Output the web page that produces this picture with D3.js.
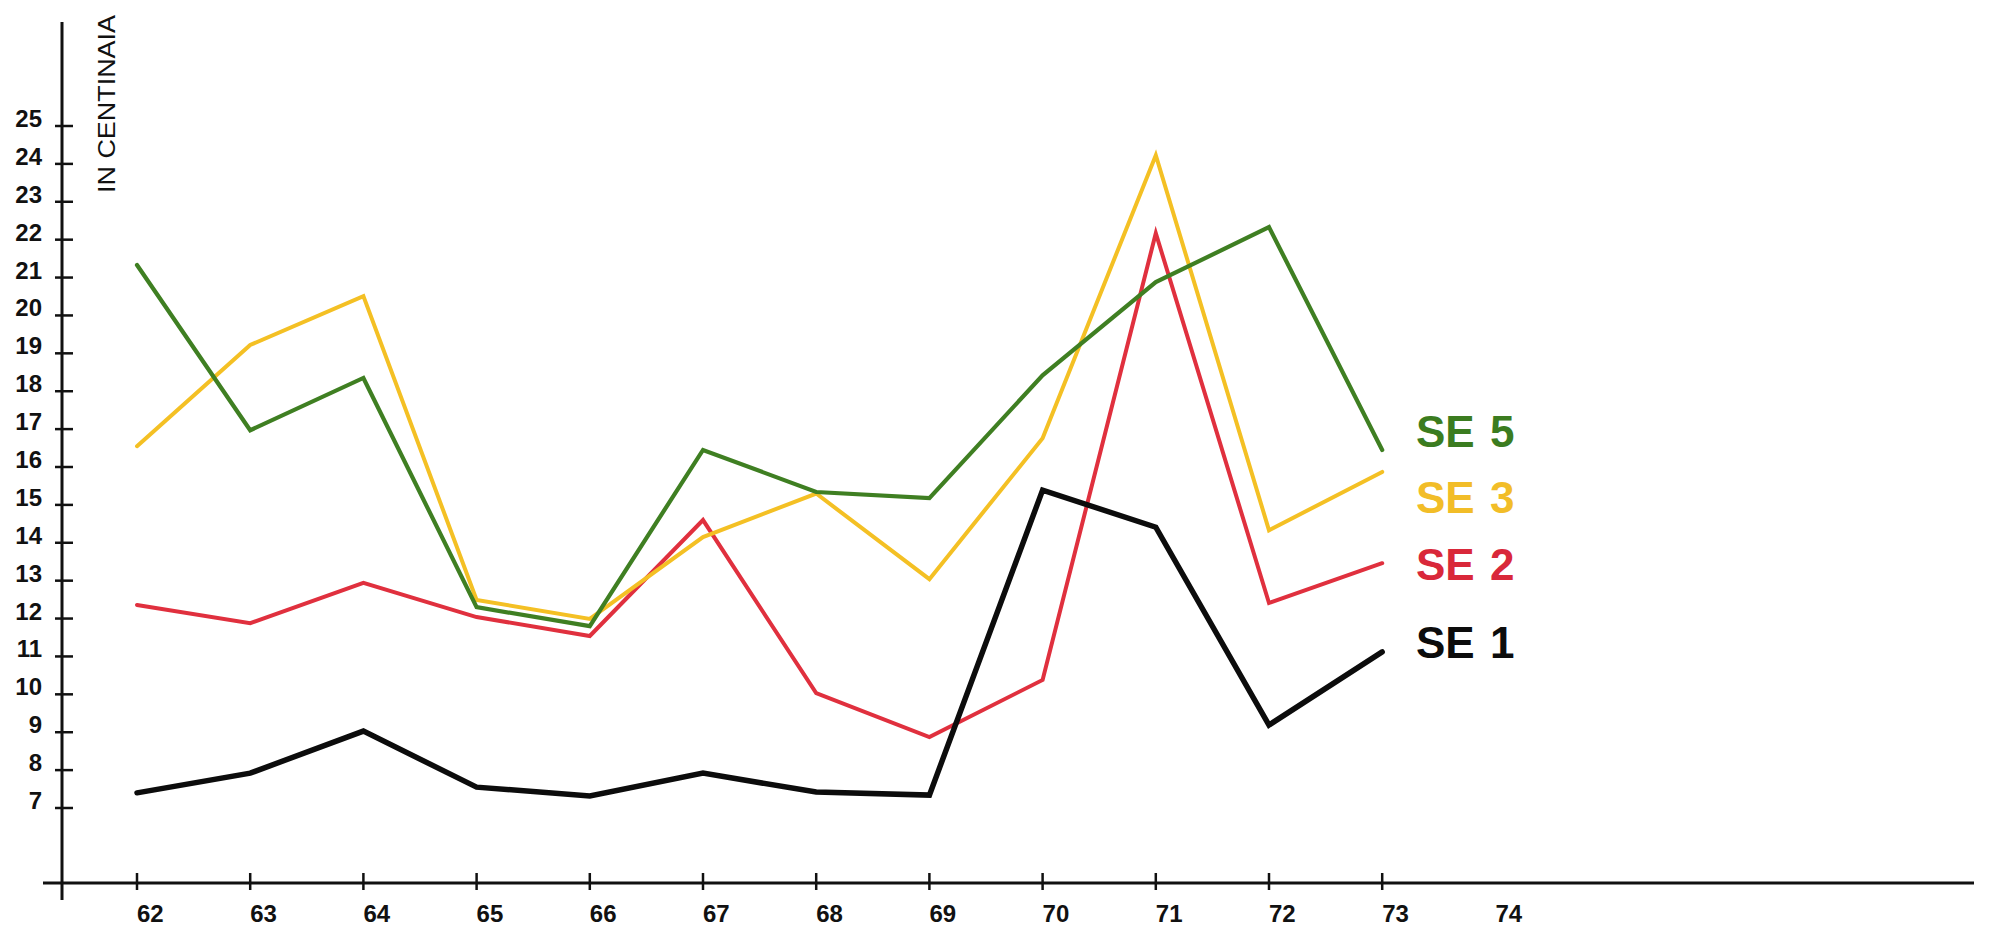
<!DOCTYPE html>
<html>
<head>
<meta charset="utf-8">
<script src="https://cdn.jsdelivr.net/npm/d3@7"></script>
<style>
  html, body { margin: 0; padding: 0; background: #fff; }
  svg { display: block; }
</style>
</head>
<body>
<svg id="chart" width="1997" height="928"></svg>
<script>
// ---- data ----
const years = [62, 63, 64, 65, 66, 67, 68, 69, 70, 71, 72, 73];
const xTickLabels = [62, 63, 64, 65, 66, 67, 68, 69, 70, 71, 72, 73, 74];
const yTickValues = [7, 8, 9, 10, 11, 12, 13, 14, 15, 16, 17, 18, 19, 20, 21, 22, 23, 24, 25];
const se5 = [21.33, 16.97, 18.35, 12.3, 11.8, 16.45, 15.34, 15.18, 18.42, 20.88, 22.33, 16.45];
const se3 = [16.55, 19.22, 20.51, 12.49, 11.99, 14.15, 15.3, 13.04, 16.76, 24.23, 14.33, 15.87];
const se2 = [12.36, 11.88, 12.94, 12.04, 11.54, 14.6, 10.03, 8.87, 10.38, 22.17, 12.41, 13.46];
const se1 = [7.4, 7.92, 9.03, 7.55, 7.32, 7.92, 7.42, 7.34, 15.39, 14.41, 9.19, 11.12];
const seriesNames = ["SE", "SE", "SE", "SE"];
const seriesNumbers = ["5", "3", "2", "1"];
const yAxisTitle = "IN CENTINAIA";

// ---- layout ----
const svg = d3.select("#chart");
const x = d3.scaleLinear().domain([62, 74]).range([137, 1495.4]);
const y = d3.scaleLinear().domain([7, 25]).range([808, 126]);
const axisX = 62, axisY = 883;
const font = "'Liberation Sans', Arial, Helvetica, sans-serif";

// axes lines
svg.append("line").attr("x1", axisX).attr("x2", axisX).attr("y1", 22).attr("y2", 900)
  .attr("stroke", "#111").attr("stroke-width", 3);
svg.append("line").attr("x1", 43).attr("x2", 1974).attr("y1", axisY).attr("y2", axisY)
  .attr("stroke", "#111").attr("stroke-width", 3);

// y ticks
const yg = svg.append("g");
yg.selectAll("line").data(yTickValues).join("line")
  .attr("x1", axisX - 7).attr("x2", axisX + 11)
  .attr("y1", d => y(d)).attr("y2", d => y(d))
  .attr("stroke", "#111").attr("stroke-width", 2.5);
yg.selectAll("text").data(yTickValues).join("text")
  .attr("x", 42).attr("y", d => y(d) + 1)
  .attr("text-anchor", "end")
  .attr("font-family", font).attr("font-weight", "bold").attr("font-size", 24)
  .attr("fill", "#111")
  .text(d => d);

// x ticks
const xg = svg.append("g");
xg.selectAll("line").data(years).join("line")
  .attr("x1", d => x(d)).attr("x2", d => x(d))
  .attr("y1", axisY - 10).attr("y2", axisY + 7)
  .attr("stroke", "#111").attr("stroke-width", 2.5);
xg.selectAll("text").data(xTickLabels).join("text")
  .attr("x", d => x(d)).attr("y", 922)
  .attr("text-anchor", "start")
  .attr("font-family", font).attr("font-weight", "bold").attr("font-size", 24)
  .attr("fill", "#111")
  .text(d => d);

// y axis title
svg.append("text")
  .attr("transform", "translate(115,193) rotate(-90)")
  .attr("font-family", font).attr("font-size", 23)
  .attr("textLength", 178).attr("lengthAdjust", "spacingAndGlyphs")
  .attr("fill", "#111")
  .text(yAxisTitle);

// lines
const lineGen = d3.line().x((d, i) => x(years[i])).y(d => y(d)).curve(d3.curveLinear);
const series = [
  { values: se2, color: "#e0303e", width: 4 },
  { values: se3, color: "#f4c024", width: 4 },
  { values: se5, color: "#3f7f22", width: 4.2 },
  { values: se1, color: "#0c0c0c", width: 5.5 }
];
svg.append("g").selectAll("path").data(series).join("path")
  .attr("d", d => lineGen(d.values))
  .attr("fill", "none")
  .attr("stroke", d => d.color)
  .attr("stroke-width", d => d.width)
  .attr("stroke-linejoin", "miter")
  .attr("stroke-linecap", "round");

// legend labels (ordered top to bottom)
const legendColors = ["#3b7c20", "#f2bd28", "#d9283a", "#0c0c0c"];
const legendBaselines = [447, 513, 580, 658];
const lg = svg.append("g");
seriesNames.forEach((name, i) => {
  const t = lg.append("text")
    .attr("y", legendBaselines[i])
    .attr("font-family", font).attr("font-weight", "bold").attr("font-size", 44)
    .attr("fill", legendColors[i]);
  t.append("tspan").attr("x", 1416).text(name);
  t.append("tspan").attr("x", 1490).text(seriesNumbers[i]);
});
</script>
</body>
</html>
